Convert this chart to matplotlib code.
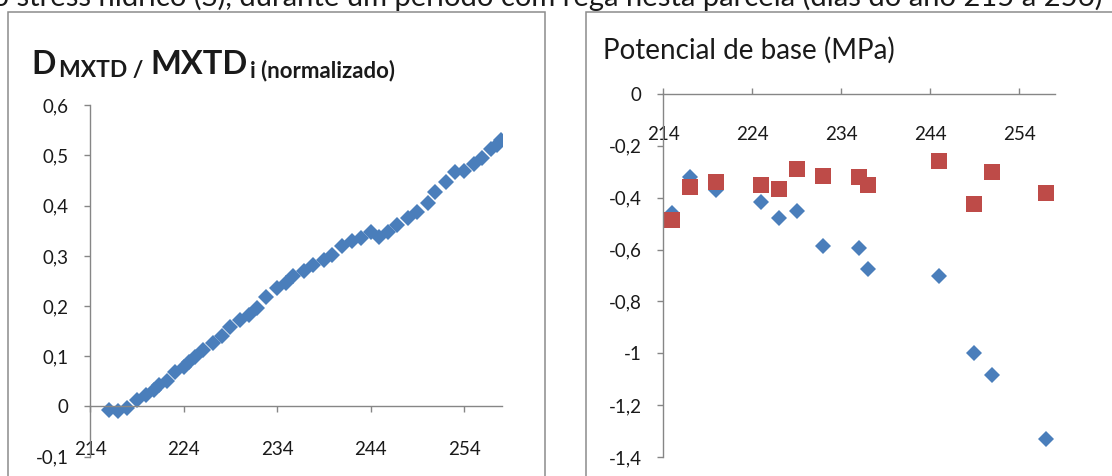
import matplotlib
matplotlib.use("Agg")
import matplotlib.pyplot as plt
from matplotlib.patches import Rectangle
from matplotlib.ticker import FuncFormatter, MultipleLocator

plt.rcParams["font.family"] = ["Lato", "DejaVu Sans"]
plt.rcParams["axes.unicode_minus"] = False

# Daily MXTD, normalised (day of year, value)
mxtd_day = [216, 217, 218, 219, 220, 220.8, 221.4, 222.2, 223.1, 224,
            224.6, 225.2, 226.1, 227.1, 228.1, 229, 230, 231, 231.8, 232.8,
            234, 234.9, 235.7, 236.9, 237.8, 239, 239.9, 240.9, 242, 243,
            244, 244.9, 245.8, 246.8, 248, 248.9, 250.1, 250.9, 252, 253,
            254, 255, 255.9, 256.8, 257.5, 257.9]
mxtd_val = [-0.007, -0.009, -0.002, 0.012, 0.022, 0.033, 0.042, 0.05, 0.069, 0.078,
            0.088, 0.098, 0.112, 0.127, 0.14, 0.158, 0.172, 0.183, 0.197, 0.219,
            0.236, 0.246, 0.259, 0.269, 0.282, 0.292, 0.302, 0.319, 0.329, 0.335,
            0.347, 0.337, 0.348, 0.361, 0.375, 0.388, 0.405, 0.428, 0.448, 0.468,
            0.470, 0.484, 0.496, 0.512, 0.521, 0.530]

# Predawn leaf water potential (MPa)
pb_day = [215, 217, 220, 225, 227, 229, 232, 236, 237, 245, 249, 251, 257]
pb_s = [-0.46, -0.32, -0.37, -0.415, -0.48, -0.45, -0.585, -0.595, -0.675,
        -0.70, -1.0, -1.085, -1.33]
pb_r = [-0.485, -0.36, -0.34, -0.35, -0.365, -0.29, -0.315, -0.32, -0.35,
        -0.26, -0.425, -0.30, -0.38]

x_ticks = [214, 224, 234, 244, 254]

BLUE = "#4A7EBB"
RED = "#BE4B48"
AXIS = "#868686"
TEXT = "#1a1a1a"
W, H = 1112, 476


def comma_fmt(v, pos):
    v = round(v, 2)
    if abs(v) < 1e-9:
        v = 0
    return ("%g" % v).replace(".", ",")


def style_axes(ax, xpad):
    for side in ("top", "right"):
        ax.spines[side].set_visible(False)
    for side in ("left", "bottom"):
        ax.spines[side].set_color(AXIS)
        ax.spines[side].set_linewidth(1.0)
    ax.spines["bottom"].set_position(("data", 0))
    ax.set_xlim(214, 258)
    ax.set_xticks(x_ticks)
    ax.yaxis.set_major_formatter(FuncFormatter(comma_fmt))
    ax.tick_params(axis="y", direction="out", length=4.5, width=1.0, color=AXIS,
                   pad=11, labelsize=13.5, labelcolor=TEXT)
    ax.tick_params(axis="x", length=4.5, width=1.0, color=AXIS,
                   pad=xpad, labelsize=13.5, labelcolor=TEXT)
    ax.set_facecolor("none")


def px_axes(fig, x0, x1, y_top, y_bot):
    return fig.add_axes([x0 / W, 1 - y_bot / H, (x1 - x0) / W, (y_bot - y_top) / H])


def px_text(fig, x, y, s, **kw):
    return fig.text(x / W, 1 - y / H, s, va="baseline", color=TEXT, **kw)


fig = plt.figure(figsize=(W / 100, H / 100), dpi=100)

# chart frames
fig.add_artist(Rectangle((8 / W, -0.1), (545 - 8) / W, 1.1 - 12 / H,
                         transform=fig.transFigure, fill=False, ec="#8c8c8c", lw=1.1))
fig.add_artist(Rectangle((586 / W, -0.1), 0.6, 1.1 - 12 / H,
                         transform=fig.transFigure, fill=False, ec="#8c8c8c", lw=1.1))

# running text above the charts
px_text(fig, 1103, 6,
        "ao stress hídrico (S), durante um período com rega nesta parcela (dias do ano 215 a 256)",
        ha="right", fontsize=21)

# left: normalised MXTD
ax1 = px_axes(fig, 90, 501.8, 105.3, 456.7)
ax1.plot(mxtd_day, mxtd_val, ls="none", marker="D", ms=7.8, mew=0, color=BLUE)
ax1.set_ylim(-0.1, 0.6)
ax1.yaxis.set_major_locator(MultipleLocator(0.1))
style_axes(ax1, xpad=20)
ax1.tick_params(axis="x", direction="out")

# title built from pieces: large D / MXTD with smaller subscripts
px_text(fig, 31, 73.5, "D", fontsize=23, fontweight="bold")
px_text(fig, 59, 77, "MXTD /", fontsize=16.5, fontweight="bold")
px_text(fig, 150, 73.5, "MXTD", fontsize=23.5, fontweight="bold")
px_text(fig, 250, 77, "i (normalizado)", fontsize=16, fontweight="bold")

# right: predawn water potential
ax2 = px_axes(fig, 663, 1054.6, 94, 457)
ax2.plot(pb_day, pb_s, ls="none", marker="D", ms=8, mew=0, color=BLUE)
ax2.plot(pb_day, pb_r, ls="none", marker="s", ms=11.5, mew=0, color=RED)
ax2.set_ylim(-1.4, 0)
ax2.yaxis.set_major_locator(MultipleLocator(0.2))
style_axes(ax2, xpad=23)
ax2.tick_params(axis="x", direction="in")
px_text(fig, 603, 58.3, "Potencial de base (MPa)", fontsize=20)

fig.savefig("out.png", dpi=100)
